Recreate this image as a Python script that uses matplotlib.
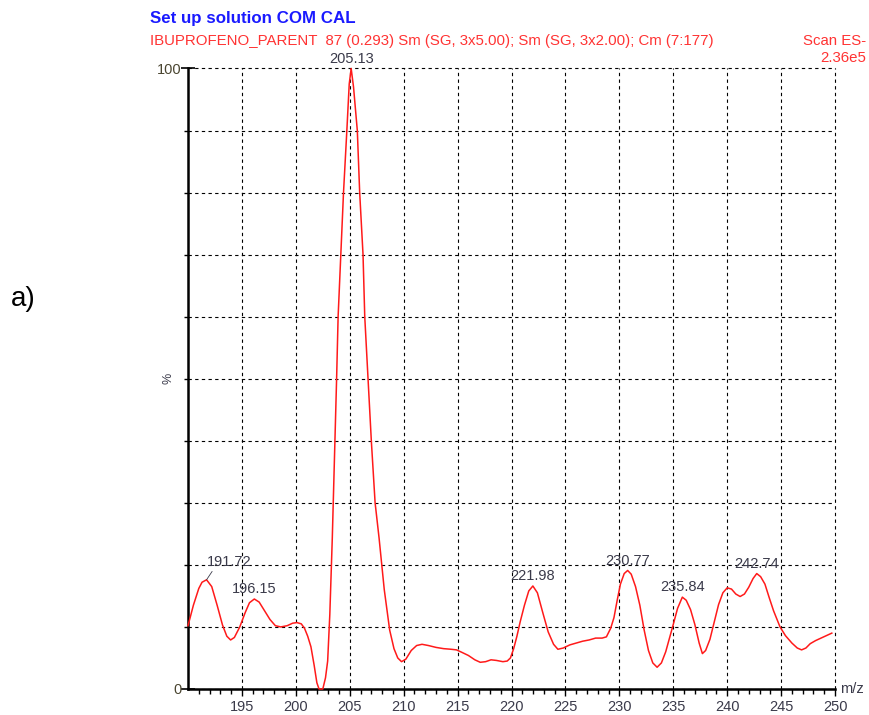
import matplotlib
matplotlib.use("Agg")
import matplotlib.pyplot as plt
import numpy as np

plt.rcParams['font.family'] = ['Liberation Sans', 'DejaVu Sans']

# spectrum trace, m/z vs relative intensity (%)
mz = [190.0, 190.5, 191.0, 191.3, 191.72, 192.2, 192.7, 193.2, 193.6, 193.95,
      194.3, 194.8, 195.3, 195.7, 196.15, 196.6, 197.1, 197.6, 198.1, 198.6,
      199.2, 199.7, 200.1, 200.5, 200.8, 201.1, 201.4, 201.7, 201.95, 202.15,
      202.5, 202.75, 202.95, 203.15, 203.3, 203.38, 203.47, 203.62, 203.78, 203.92,
      204.17, 204.42, 204.73, 204.95, 205.13, 205.35, 205.7, 205.92, 206.23, 206.39,
      206.7, 207.0, 207.35, 207.72, 208.2, 208.7, 209.1, 209.45, 209.8, 210.2,
      210.7, 211.2, 211.7, 212.3, 213.0, 213.7, 214.4, 214.9, 215.4, 216.0,
      216.6, 217.1, 217.6, 218.1, 218.6, 219.2, 219.6, 219.9, 220.2, 220.5,
      220.8, 221.2, 221.6, 221.98, 222.4, 222.9, 223.4, 223.9, 224.3, 224.8,
      225.4, 226.0, 226.6, 227.2, 227.8, 228.4, 228.8, 229.2, 229.5, 229.8,
      230.1, 230.45, 230.77, 231.1, 231.5, 231.9, 232.3, 232.7, 233.1, 233.5,
      233.9, 234.3, 234.7, 235.0, 235.4, 235.84, 236.2, 236.6, 237.0, 237.4,
      237.7, 238.0, 238.4, 238.8, 239.2, 239.6, 240.0, 240.4, 240.8, 241.2,
      241.6, 242.0, 242.4, 242.74, 243.1, 243.5, 243.9, 244.3, 244.9, 245.4,
      246.0, 246.5, 246.9, 247.3, 247.7, 248.2, 248.7, 249.2, 249.7]
pct = [10.2, 13.5, 16.2, 17.2, 17.6, 16.5, 13.5, 10.3, 8.5, 7.9,
       8.3, 10.0, 12.3, 13.9, 14.5, 14.0, 12.6, 11.2, 10.2, 10.0,
       10.2, 10.6, 10.7, 10.5, 9.8, 8.5, 6.8, 3.8, 1.0, 0.0,
       0.0, 1.8, 4.5, 12.0, 20.0, 24.3, 30.0, 40.0, 50.0, 60.0,
       70.0, 80.0, 90.0, 97.5, 100.0, 97.0, 90.0, 80.0, 70.0, 60.0,
       50.0, 40.0, 30.0, 24.3, 16.0, 9.5, 6.5, 5.0, 4.4, 4.8,
       6.2, 7.0, 7.2, 7.0, 6.7, 6.5, 6.4, 6.3, 5.9, 5.4,
       4.7, 4.3, 4.4, 4.7, 4.6, 4.4, 4.5, 5.0, 6.5, 8.5,
       10.8, 13.5, 15.8, 16.6, 15.5, 12.3, 9.2, 7.2, 6.4, 6.6,
       7.1, 7.4, 7.7, 7.9, 8.2, 8.2, 8.4, 9.8, 11.5, 14.3,
       16.9, 18.6, 19.1, 18.5, 16.5, 13.5, 9.5, 6.2, 4.2, 3.5,
       4.2, 6.0, 8.5, 10.4, 13.0, 14.8, 14.3, 12.8, 10.4, 7.4,
       5.7, 6.2, 8.0, 10.8, 13.6, 15.5, 16.3, 16.1, 15.3, 14.9,
       15.3, 16.4, 17.8, 18.6, 18.1, 16.9, 14.7, 12.6, 10.0, 8.6,
       7.4, 6.6, 6.3, 6.6, 7.3, 7.8, 8.2, 8.6, 9.0]

# labelled peaks
peak_mz = [191.72, 196.15, 205.13, 221.98, 230.77, 235.84, 242.74]
peak_pct = [17.6, 14.5, 100.0, 16.6, 19.1, 14.8, 18.6]

fig = plt.figure(figsize=(8.7, 7.15), dpi=100)
ax = fig.add_axes([0.2161, 0.0364, 0.7437, 0.8678])

ax.plot(mz, pct, color='#ff1a1a', lw=1.1, clip_on=False, zorder=3)

ax.set_xlim(190, 250)
ax.set_ylim(0, 100)

ax.set_xticks(np.arange(195, 251, 5))
ax.set_xticks(np.arange(191, 250, 1), minor=True)
ax.set_yticks([0, 100])
ax.set_yticks(np.arange(10, 100, 10), minor=True)

ax.grid(True, which='major', axis='x', color='black', ls=(0, (3, 3)), lw=0.8)
ax.grid(True, which='both', axis='y', color='black', ls=(0, (3, 3)), lw=0.8)
for gl in ax.get_xgridlines() + ax.get_ygridlines():
    gl.set_clip_on(False)

for side in ['top', 'right']:
    ax.spines[side].set_visible(False)
ax.spines['left'].set_linewidth(1.8)
ax.spines['bottom'].set_linewidth(1.8)

ax.tick_params(axis='x', which='major', direction='out', length=5, width=1,
               labelsize=10.5, labelcolor='#3a3a4a', pad=3)
ax.tick_params(axis='x', which='minor', direction='out', length=3.5, width=1)
ax.tick_params(axis='y', which='major', direction='inout', length=9.5, width=1.2,
               labelsize=10.5, labelcolor='#4a4530', pad=0)
ax.tick_params(axis='y', which='minor', direction='out', length=3, width=1)

ax.text(-0.03, 0.5, '%', transform=ax.transAxes, rotation=90,
        ha='center', va='center', fontsize=9, color='#3a3a4a')
ax.text(1.008, 0.0, 'm/z', transform=ax.transAxes, ha='left', va='center',
        fontsize=10.5, color='#3a3a4a')

# peak annotations
for m, p in zip(peak_mz, peak_pct):
    if m == peak_mz[0]:
        ax.annotate(f'{m:.2f}', xy=(m, p), xytext=(16, 8), textcoords='offset points',
                    ha='center', va='bottom', fontsize=10.5, color='#3a3a4a',
                    arrowprops=dict(arrowstyle='-', color='#3a3a4a', lw=0.6,
                                    shrinkA=0, shrinkB=0, relpos=(0.2, 0.15)))
    else:
        ax.annotate(f'{m:.2f}', xy=(m, p), xytext=(0, 2), textcoords='offset points',
                    ha='center', va='bottom', fontsize=10.5, color='#3a3a4a')

fig.text(150 / 870, 1 - 18 / 715, 'Set up solution COM CAL', fontsize=12.2,
         fontweight='bold', color='#1a1aff', ha='left', va='center')
fig.text(150 / 870, 1 - 41 / 715,
         'IBUPROFENO_PARENT  87 (0.293) Sm (SG, 3x5.00); Sm (SG, 3x2.00); Cm (7:177)',
         fontsize=10.85, color='#ff3333', ha='left', va='center')
fig.text(866 / 870, 1 - 41 / 715, 'Scan ES-', fontsize=10.85, color='#ff3333',
         ha='right', va='center')
fig.text(866 / 870, 1 - 58 / 715, '2.36e5', fontsize=10.85, color='#ff3333',
         ha='right', va='center')
fig.text(23 / 870, 1 - 299 / 715, 'a)', fontsize=20, color='black',
         ha='center', va='center')

fig.savefig('out.png', dpi=100)
